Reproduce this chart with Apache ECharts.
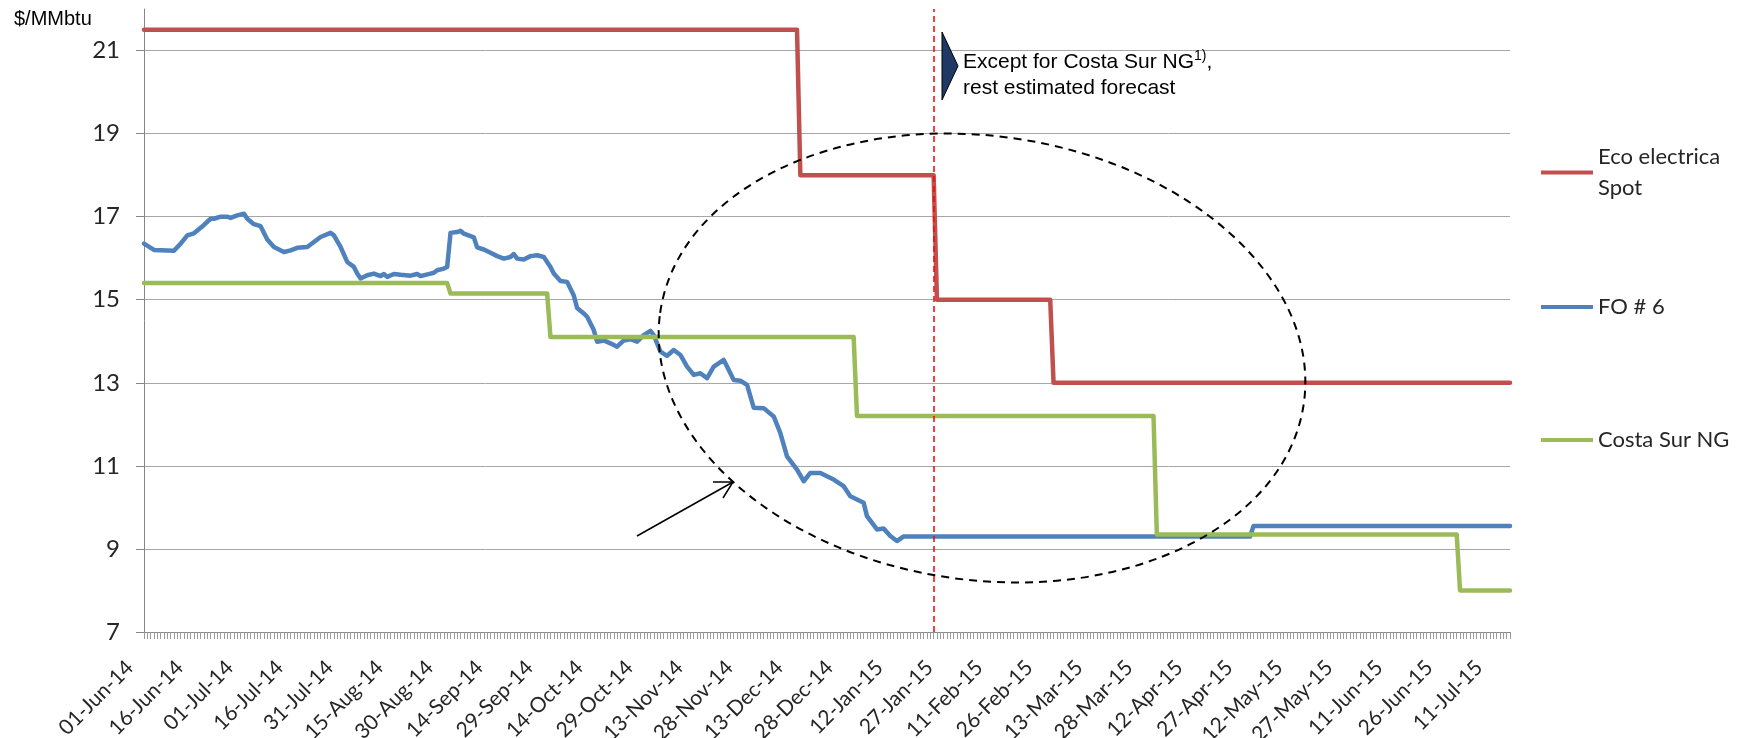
<!DOCTYPE html>
<html>
<head>
<meta charset="utf-8">
<title>Fuel prices $/MMbtu</title>
<script src="https://cdn.jsdelivr.net/npm/echarts@6/dist/echarts.min.js"></script>
<style>
    html, body {margin: 0; padding: 0; background: #fff;}
    #chart {width: 1738px; height: 738px;}
</style>
</head>
<body>
<div id="chart"></div>
<script>
// one category per calendar day, 01-Jun-14 .. 15-Jul-15
var startDay = Date.UTC(2014, 5, 1);
var dayCount = 411;
var monthNames = ['Jan', 'Feb', 'Mar', 'Apr', 'May', 'Jun', 'Jul', 'Aug', 'Sep', 'Oct', 'Nov', 'Dec'];
var days = [];
for (var i = 0; i < dayCount; i++) {
    var d = new Date(startDay + i * 86400000);
    var dd = d.getUTCDate() < 10 ? '0' + d.getUTCDate() : '' + d.getUTCDate();
    days.push(dd + '-' + monthNames[d.getUTCMonth()] + '-' + String(d.getUTCFullYear()).slice(2));
}

var yTicks = [7, 9, 11, 13, 15, 17, 19, 21];
var seriesNames = ['Eco electrica Spot', 'FO # 6', 'Costa Sur NG'];

// [day index, $/MMbtu]
var ecoSpot = [[0, 21.5], [196, 21.5], [197, 18], [237, 18], [238, 15], [272, 15], [273, 13], [410, 13]];

var costaSurNG = [[0, 15.4], [91, 15.4], [92, 15.15], [121, 15.15], [122, 14.1], [213, 14.1], [214, 12.2],
    [303, 12.2], [304, 9.35], [394, 9.35], [395, 8.0], [410, 8.0]];

var fo6 = [[0, 16.35], [3, 16.2], [9, 16.18], [11, 16.35], [13, 16.55], [15, 16.6], [18, 16.8], [20, 16.95],
    [21, 16.95], [23, 17.0], [25, 17.0], [26, 16.97], [28, 17.03], [30, 17.07], [31, 16.95], [33, 16.82],
    [35, 16.77], [37, 16.45], [39, 16.27], [42, 16.15], [44, 16.19], [46, 16.25], [49, 16.27], [51, 16.39],
    [53, 16.51], [56, 16.61], [57, 16.55], [59, 16.27], [61, 15.91], [63, 15.79], [64, 15.63], [65, 15.51],
    [67, 15.59], [69, 15.63], [71, 15.57], [72, 15.62], [73, 15.55], [75, 15.62], [77, 15.6], [80, 15.58],
    [82, 15.62], [83, 15.57], [86, 15.63], [87, 15.65], [88, 15.71], [90, 15.75], [91, 15.79], [92, 16.61],
    [94, 16.63], [95, 16.66], [96, 16.59], [99, 16.5], [100, 16.26], [102, 16.21], [104, 16.13], [106, 16.05],
    [108, 15.99], [110, 16.03], [111, 16.1], [112, 15.99], [114, 15.97], [116, 16.05], [118, 16.07],
    [120, 16.03], [122, 15.79], [123, 15.63], [125, 15.45], [127, 15.43], [129, 15.1], [130, 14.8],
    [132, 14.67], [133, 14.59], [135, 14.27], [136, 13.99], [138, 14.02], [140, 13.95], [142, 13.87],
    [144, 14.02], [146, 14.05], [148, 13.99], [150, 14.15], [152, 14.25], [153, 14.15], [155, 13.75],
    [157, 13.65], [159, 13.79], [161, 13.67], [163, 13.39], [165, 13.19], [167, 13.23], [169, 13.11],
    [171, 13.39], [174, 13.55], [175, 13.39], [177, 13.07], [179, 13.05], [181, 12.95], [183, 12.4],
    [186, 12.39], [189, 12.19], [191, 11.79], [193, 11.23], [196, 10.91], [198, 10.63], [200, 10.83],
    [203, 10.83], [205, 10.75], [207, 10.67], [210, 10.51], [212, 10.27], [214, 10.19], [216, 10.11],
    [217, 9.79], [220, 9.47], [222, 9.49], [224, 9.31], [226, 9.19], [228, 9.3], [332, 9.3], [333, 9.55],
    [410, 9.55]];

var forecastStart = '24-Jan-15';

var labelFont = 'Lato';
var textColor = '#262626';

function legendFor(name, top, text, twoLines) {
    return {
        data: [name],
        orient: 'vertical',
        left: 1541,
        top: top,
        padding: 0,
        icon: 'rect',
        itemWidth: 52,
        itemHeight: 4,
        selectedMode: false,
        formatter: function () { return text; },
        textStyle: {
            fontFamily: labelFont,
            fontSize: 22,
            color: textColor,
            lineHeight: twoLines ? 31 : 26,
            padding: twoLines ? [31, 0, 0, 0] : 0
        }
    };
}

function lineSeries(name, data, color, extra) {
    var s = {
        name: name,
        type: 'line',
        data: data,
        color: color,
        showSymbol: false,
        symbol: 'none',
        lineStyle: {width: 4.5, color: color, cap: 'round', join: 'round'},
        emphasis: {disabled: true}
    };
    if (extra) s.markLine = extra;
    return s;
}

var myChart = echarts.init(document.getElementById('chart'));

var option = {
    animation: false,
    backgroundColor: '#fff',
    title: {
        text: '$/MMbtu',
        left: 9,
        top: 4,
        textStyle: {fontFamily: 'Liberation Sans', fontSize: 20, fontWeight: 'normal', color: '#000'}
    },
    legend: [
        legendFor(seriesNames[0], 126, 'Eco electrica\nSpot', true),
        legendFor(seriesNames[1], 294, 'FO # 6', false),
        legendFor(seriesNames[2], 427, 'Costa Sur NG', false)
    ],
    grid: {left: 144, right: 228, top: 9, bottom: 106, containLabel: false, outerBoundsMode: 'none'},
    xAxis: {
        type: 'category',
        data: days,
        boundaryGap: false,
        axisLine: {lineStyle: {color: '#868686', width: 1}},
        axisTick: {interval: 0, length: 7, lineStyle: {color: '#9a9a9a'}},
        axisLabel: {
            interval: 14,
            rotate: 45,
            margin: 18,
            padding: [0, 20, 0, 0],
            fontFamily: labelFont,
            fontSize: 21,
            color: textColor
        },
        splitLine: {show: false}
    },
    yAxis: {
        type: 'value',
        min: 7,
        max: 22,
        axisLine: {show: true, lineStyle: {color: '#868686', width: 1}},
        axisTick: {show: true, length: 8, customValues: yTicks, lineStyle: {color: '#868686'}},
        axisLabel: {
            customValues: yTicks,
            margin: 24,
            fontFamily: labelFont,
            fontSize: 24,
            color: textColor
        },
        splitLine: {show: true, lineStyle: {color: '#a6a6a6', width: 1}}
    },
    series: [
        lineSeries(seriesNames[0], ecoSpot, '#c0504d'),
        lineSeries(seriesNames[1], fo6, '#4f81bd'),
        lineSeries(seriesNames[2], costaSurNG, '#9bbb59', {
            silent: true,
            symbol: ['none', 'none'],
            label: {show: false},
            lineStyle: {color: '#ff0000', type: [6, 4], width: 1.5},
            data: [{xAxis: forecastStart}]
        })
    ],
    graphic: [
        {
            // circled region
            type: 'ellipse',
            x: 982,
            y: 358,
            rotation: -8 * Math.PI / 180,
            shape: {cx: 0, cy: 0, rx: 325, ry: 222},
            style: {fill: 'none', stroke: '#000', lineWidth: 2, lineDash: [8, 6]},
            silent: true,
            z: 10
        },
        {
            type: 'polyline',
            shape: {points: [[637, 536], [733, 482]]},
            style: {stroke: '#000', lineWidth: 1.5, fill: 'none'},
            silent: true,
            z: 10
        },
        {
            type: 'polyline',
            shape: {points: [[713, 482], [733, 482], [723, 498]]},
            style: {stroke: '#000', lineWidth: 1.5, fill: 'none'},
            silent: true,
            z: 10
        },
        {
            type: 'polygon',
            shape: {points: [[942, 32], [942, 100], [958, 66]]},
            style: {fill: '#1f3864', stroke: '#000', lineWidth: 1},
            silent: true,
            z: 10
        },
        {
            type: 'text',
            x: 963,
            y: 49,
            silent: true,
            z: 10,
            style: {
                text: 'Except for Costa Sur NG{sup|1)},\nrest estimated forecast',
                font: '21px "Liberation Sans"',
                lineHeight: 26,
                fill: '#000',
                textVerticalAlign: 'top',
                rich: {
                    sup: {fontSize: 14, fontFamily: 'Liberation Sans', verticalAlign: 'top', lineHeight: 20, fill: '#000'}
                }
            }
        }
    ]
};

myChart.setOption(option);
</script>
</body>
</html>
